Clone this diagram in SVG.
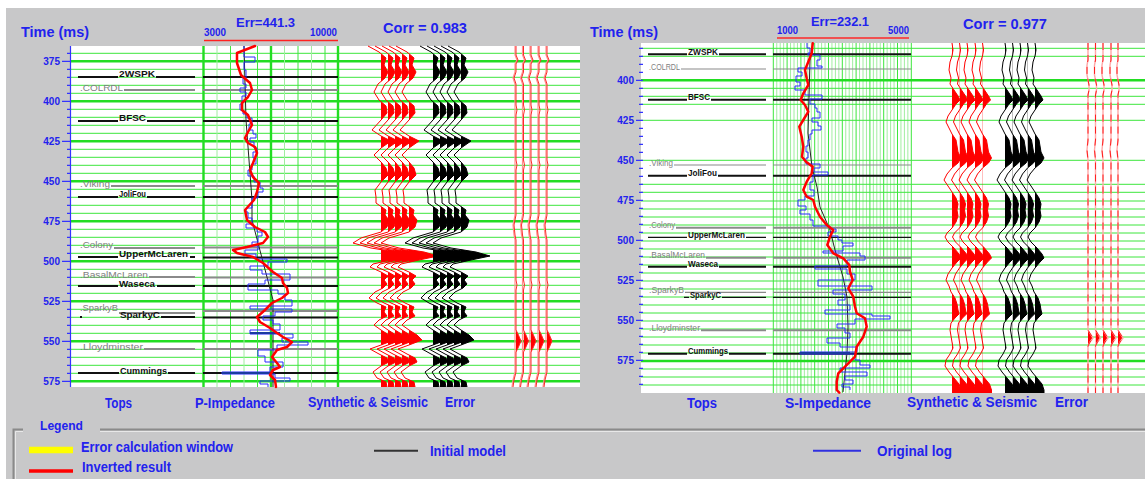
<svg xmlns="http://www.w3.org/2000/svg" xmlns:xlink="http://www.w3.org/1999/xlink" width="1145" height="479" viewBox="0 0 1145 479">
<style>
.lab{font-family:"Liberation Sans",Arial,sans-serif;font-weight:bold;fill:#2222ee}
.tick{font-family:"Liberation Sans",Arial,sans-serif;font-weight:bold;fill:#2222ee;font-size:10px;text-anchor:end}
.tk{font-family:"Liberation Sans",Arial,sans-serif;font-weight:bold;fill:#111;font-size:9.5px}
.tkg{font-family:"Liberation Sans",Arial,sans-serif;fill:#808080;font-size:9.5px}
.g1{stroke:#3de63d;stroke-width:1;fill:none}
.g3{stroke:#22dd22;stroke-width:2.4;fill:none}
.gl{stroke:#a0eea0;stroke-width:1;fill:none}
.tb{stroke:#111;stroke-width:2;fill:none}
.tbt{stroke:#111;stroke-width:1.2;fill:none}
.tg{stroke:#8a8a8a;stroke-width:2;fill:none}
.tgt{stroke:#8a8a8a;stroke-width:1.2;fill:none}
.blue{stroke:#2a2aff;stroke-width:1;fill:none}
.init{stroke:#222;stroke-width:1;fill:none}
.inv{stroke:#ff0000;stroke-width:2.5;fill:none;stroke-linejoin:round;stroke-linecap:round}
.ax{stroke:#3333ff;stroke-width:1.2;fill:none}
</style>
<defs>
<clipPath id="pos" clipPathUnits="userSpaceOnUse"><rect x="0" y="0" width="80" height="479"/></clipPath>
<g id="wL">
<path fill="currentColor" clip-path="url(#pos)" d="M0,46 L-13,46 L-2,52 L5,58 L3,65 L7,72 L4,78 L-3,84 L-7,92 L-2,100 L5,106 L6,113 L0,120 L-9,130 L0,136 L10,141 L0,148 L-7,155 L0,162 L5,168 L7,175 L0,182 L-6,190 L-5,197 L-5,203 L5,210 L4,215 L8,220 L6,227 L0,232 L-20,238 L-28,243 L-10,248 L15,252 L29,256 L10,260 L-8,264 L-11,267 L0,272 L7,276 L3,280 L6,284 L2,288 L-6,292 L-12,298 L-4,303 L5,307 L3,312 L6,316 L-2,320 L-7,325 L0,330 L8,335 L13,340 L0,345 L-11,349 L-2,354 L6,358 L8,362 L0,366 L-8,372 L-4,378 L5,382 L6,387 L0,387 Z"/>
<path fill="none" stroke="currentColor" stroke-width="1" stroke-linejoin="round" d="M-13,46 L-2,52 L5,58 L3,65 L7,72 L4,78 L-3,84 L-7,92 L-2,100 L5,106 L6,113 L0,120 L-9,130 L0,136 L10,141 L0,148 L-7,155 L0,162 L5,168 L7,175 L0,182 L-6,190 L-5,197 L-5,203 L5,210 L4,215 L8,220 L6,227 L0,232 L-20,238 L-28,243 L-10,248 L15,252 L29,256 L10,260 L-8,264 L-11,267 L0,272 L7,276 L3,280 L6,284 L2,288 L-6,292 L-12,298 L-4,303 L5,307 L3,312 L6,316 L-2,320 L-7,325 L0,330 L8,335 L13,340 L0,345 L-11,349 L-2,354 L6,358 L8,362 L0,366 L-8,372 L-4,378 L5,382 L6,387"/>
</g>
<g id="wR">
<path fill="currentColor" clip-path="url(#pos)" d="M0,43 L1,50 L0,56 L-2,62 L-3,70 L-1,78 L-2,84 L2,90 L6,96 L8,100 L4,104 L0,110 L-4,116 L-6,122 L-3,128 L0,134 L4,140 L5,146 L6,152 L9,158 L6,163 L0,168 L-5,174 L-8,180 L-4,186 L0,192 L4,198 L6,204 L5,210 L6,216 L4,222 L0,228 L-5,233 L-7,237 L-4,242 L2,248 L7,254 L9,258 L5,262 L0,268 L-4,274 L-6,280 L-3,286 L-1,292 L3,298 L5,304 L6,310 L7,314 L3,318 L-1,323 L-2,330 L-1,336 L0,342 L1,348 L-2,354 L-6,360 L-7,366 L-3,372 L2,378 L7,384 L9,390 L9,393 L0,393 Z"/>
<path fill="none" stroke="currentColor" stroke-width="1" stroke-linejoin="round" d="M0,43 L1,50 L0,56 L-2,62 L-3,70 L-1,78 L-2,84 L2,90 L6,96 L8,100 L4,104 L0,110 L-4,116 L-6,122 L-3,128 L0,134 L4,140 L5,146 L6,152 L9,158 L6,163 L0,168 L-5,174 L-8,180 L-4,186 L0,192 L4,198 L6,204 L5,210 L6,216 L4,222 L0,228 L-5,233 L-7,237 L-4,242 L2,248 L7,254 L9,258 L5,262 L0,268 L-4,274 L-6,280 L-3,286 L-1,292 L3,298 L5,304 L6,310 L7,314 L3,318 L-1,323 L-2,330 L-1,336 L0,342 L1,348 L-2,354 L-6,360 L-7,366 L-3,372 L2,378 L7,384 L9,390 L9,393"/>
</g>
<g id="eL">
<path fill="#ff0000" clip-path="url(#pos)" d="M0,46 L0,330 L2,334 L5,341 L2,348 L0,352 L0,387 Z"/>
<path fill="none" stroke="#ff9090" stroke-width="1.2" d="M-1,46 L-1,55 L1,60 L-1,64 L-1,72 L-3,78 L-1,84 L-1,215 L-3,225 L-2,235 L-1,240 L-1,372 L-3,380 L-4,387"/>
<path fill="none" stroke="#ff2a2a" stroke-width="1" d="M0,46 L0,55 L2,60 L0,64 L0,72 L-2,78 L0,84 L0,105 L1,110 L0,115 L0,160 L1,165 L0,170 L0,215 L-2,225 L-1,235 L0,240 L0,280 L1,285 L0,290 L0,330 L2,334 L5,341 L2,348 L0,352 L0,372 L-2,380 L-3,387"/>
</g>
<g id="eR">
<path fill="#ff0000" clip-path="url(#pos)" d="M0,43 L0,330 L3,335 L5,338 L2,342 L0,346 L0,393 Z"/>
<path fill="none" stroke="#ffa8a8" stroke-width="1.4" d="M0,43 L0,60 L-1,65 L-1,75 L0,80 L1,85 L1,90 L0,95 L0,140 L-1,150 L0,160 L0,330 L3,335 L5,338 L2,342 L0,346 L0,393"/>
<path fill="none" stroke="#ff2020" stroke-width="1" stroke-dasharray="7 5" d="M0,43 L0,60 L-1,65 L-1,75 L0,80 L1,85 L1,90 L0,95 L0,140 L-1,150 L0,160 L0,330 L3,335 L5,338 L2,342 L0,346 L0,393"/>
</g>
</defs>

<!-- background -->
<rect x="0" y="0" width="1145" height="479" fill="#ffffff"/>
<rect x="6" y="8" width="1139" height="471" fill="#c8c8c9"/>

<!-- ============ LEFT PANEL ============ -->
<g id="left-panel">
<rect x="71" y="46" width="509" height="341" fill="#ffffff"/>
<path class="g1" d="M71,53.3H580 M71,69.3H580 M71,77.3H580 M71,85.3H580 M71,93.3H580 M71,109.3H580 M71,117.3H580 M71,125.3H580 M71,133.3H580 M71,149.3H580 M71,157.3H580 M71,165.3H580 M71,173.3H580 M71,189.3H580 M71,197.3H580 M71,205.3H580 M71,213.3H580 M71,229.3H580 M71,237.3H580 M71,245.3H580 M71,253.3H580 M71,269.3H580 M71,277.3H580 M71,285.3H580 M71,293.3H580 M71,309.3H580 M71,317.3H580 M71,325.3H580 M71,333.3H580 M71,349.3H580 M71,357.3H580 M71,365.3H580 M71,373.3H580"/>
<path class="g3" d="M71,61.3H580 M71,101.3H580 M71,141.3H580 M71,181.3H580 M71,221.3H580 M71,261.3H580 M71,301.3H580 M71,341.3H580 M71,381.3H580"/>
<path class="gl" stroke-width="1.5" d="M217,46V387 M244,46V387 M284.5,46V387 M311.5,46V387"/>
<path class="g1" stroke-width="1.5" d="M230.5,46V387 M257.5,46V387 M298,46V387 M325,46V387"/>
<path class="g3" stroke-width="2" d="M203.5,46V387 M271,46V387 M338,46V387"/>

<!-- axis -->
<path class="ax" d="M70.5,46V387"/>
<path class="ax" d="M67,53.3H71 M67,69.3H71 M67,77.3H71 M67,85.3H71 M67,93.3H71 M67,109.3H71 M67,117.3H71 M67,125.3H71 M67,133.3H71 M67,149.3H71 M67,157.3H71 M67,165.3H71 M67,173.3H71 M67,189.3H71 M67,197.3H71 M67,205.3H71 M67,213.3H71 M67,229.3H71 M67,237.3H71 M67,245.3H71 M67,253.3H71 M67,269.3H71 M67,277.3H71 M67,285.3H71 M67,293.3H71 M67,309.3H71 M67,317.3H71 M67,325.3H71 M67,333.3H71 M67,349.3H71 M67,357.3H71 M67,365.3H71 M67,373.3H71 M62,61.3H71 M62,101.3H71 M62,141.3H71 M62,181.3H71 M62,221.3H71 M62,261.3H71 M62,301.3H71 M62,341.3H71 M62,381.3H71"/>
<text class="tick" x="60" y="64.8">375</text>
<text class="tick" x="60" y="104.8">400</text>
<text class="tick" x="60" y="144.8">425</text>
<text class="tick" x="60" y="184.8">450</text>
<text class="tick" x="60" y="224.8">475</text>
<text class="tick" x="60" y="264.8">500</text>
<text class="tick" x="60" y="304.8">525</text>
<text class="tick" x="60" y="344.8">550</text>
<text class="tick" x="60" y="384.8">575</text>

<!-- tops lines -->
<path class="tb" d="M78,77H118 M156,77H195 M78,121H118 M147,121H195 M78,197H118 M147,197H195 M78,257H118 M190,257H195 M78,286H118 M157,286H195 M80,317H82 M161,317H195 M78,373H119 M168,373H195"/>
<path class="tg" d="M124,90H195 M111,186H195 M114,248H195 M149,277H195 M119,313H195 M144,349H195"/>
<path class="tb" d="M203,77H338 M203,121H338 M203,197H338 M203,257.5H338 M203,286H338 M203,317.5H338 M203,373H338"/>
<path class="tg" d="M203,90H338 M203,186H338 M203,247.5H338 M203,277.5H338 M203,311H338 M203,349H338"/>
<text class="tk" x="119" y="77" textLength="36" lengthAdjust="spacingAndGlyphs">2WSPK</text>
<text class="tkg" x="80" y="91" textLength="43" lengthAdjust="spacingAndGlyphs">.COLRDL</text>
<text class="tk" x="119" y="121" textLength="27" lengthAdjust="spacingAndGlyphs">BFSC</text>
<text class="tkg" x="80" y="187" textLength="30" lengthAdjust="spacingAndGlyphs">.Viking</text>
<text class="tk" x="119" y="197" textLength="27" lengthAdjust="spacingAndGlyphs">JoliFou</text>
<text class="tkg" x="80" y="248" textLength="33" lengthAdjust="spacingAndGlyphs">.Colony</text>
<text class="tk" x="119" y="257" textLength="69" lengthAdjust="spacingAndGlyphs">UpperMcLaren</text>
<text class="tkg" x="80" y="278" textLength="68" lengthAdjust="spacingAndGlyphs">.BasalMcLaren</text>
<text class="tk" x="119" y="287" textLength="36" lengthAdjust="spacingAndGlyphs">Waseca</text>
<text class="tkg" x="80" y="311" textLength="38" lengthAdjust="spacingAndGlyphs">.SparkyB</text>
<text class="tk" x="120" y="318" textLength="40" lengthAdjust="spacingAndGlyphs">SparkyC</text>
<text class="tkg" x="80" y="350" textLength="63" lengthAdjust="spacingAndGlyphs">.Lloydminster</text>
<text class="tk" x="120" y="374" textLength="47" lengthAdjust="spacingAndGlyphs">Cummings</text>

<!-- impedance curves -->
<path class="init" d="M244,46 L246,120 L252,200 L252,220 L273,300 L273,387"/>
<path class="blue" d="M244,46 V57 H255 V62 H244 V70 H246 V78 H243 V84 H246 V88 H240 V92 H246 V96 H242 V104 H240 V110 H243 V114 H247 V118 H252 V124 H249 V130 H253 V134 H256 V138 H250 V142 H254 V148 H257 V152 H253 V158 H256 V164 H252 V170 H248 V176 H254 V182 H260 V188 H263 V192 H258 V198 H252 V208 H246 V212 H248 V218 H252 V224 H246 V228 H257 V232 H262 V236 H258 V242 H252 V246 H258 V250 H245 V254 H256 V259 H287 V262 H268 V266 H250 V270 H262 V274 H290 V280 H265 V284 H248 V290 H278 V294 H285 V300 H292 V306 H250 V309 H292 V312 H275 V316 H263 V320 H273 V324 H280 V330 H250 V334 H293 V338 H282 V342 H308 V345 H277 V350 H258 V356 H265 V362 H283 V367 H270 V372 H222 V374 H275 V378 H290 V381 H260 V384 H268 V387"/>
<path stroke="#1a3aa0" stroke-width="2" d="M250,333H280 M222,373H270"/>
<path class="inv" d="M255,46 L237,53 L237,63 L241,75 L250,83 L252,90 L248,97 L242,103 L242,110 L248,115 L252,125 L248,132 L245,138 L248,143 L255,147 L257,153 L253,163 L250,170 L253,177 L259,183 L257,192 L254,200 L245,210 L247,220 L255,227 L265,232 L268,237 L263,243 L247,247 L233,250 L237,253 L253,257 L263,263 L273,272 L282,278 L283,283 L287,288 L288,293 L282,298 L272,303 L265,310 L257,317 L260,322 L270,328 L277,333 L283,337 L292,342 L287,347 L277,350 L272,357 L277,363 L280,367 L273,370 L270,375 L275,380 L276,387"/>

<!-- synthetic & seismic -->
<g color="#ff0000">
<use xlink:href="#wL" transform="translate(381,0)"/>
<use xlink:href="#wL" transform="translate(388,0)"/>
<use xlink:href="#wL" transform="translate(395,0)"/>
<use xlink:href="#wL" transform="translate(402,0)"/>
<use xlink:href="#wL" transform="translate(409,0)"/>
</g>
<g color="#000000">
<use xlink:href="#wL" transform="translate(433,0)"/>
<use xlink:href="#wL" transform="translate(440,0)"/>
<use xlink:href="#wL" transform="translate(447,0)"/>
<use xlink:href="#wL" transform="translate(454,0)"/>
<use xlink:href="#wL" transform="translate(461,0)"/>
</g>
<!-- error -->
<use xlink:href="#eL" transform="translate(516,0)"/>
<use xlink:href="#eL" transform="translate(523.5,0)"/>
<use xlink:href="#eL" transform="translate(531,0)"/>
<use xlink:href="#eL" transform="translate(539,0)"/>
<use xlink:href="#eL" transform="translate(547,0)"/>

<!-- headers -->
<text class="lab" x="21" y="37" font-size="15" textLength="68" lengthAdjust="spacingAndGlyphs">Time (ms)</text>
<text class="lab" x="236" y="27" font-size="13.5" textLength="59" lengthAdjust="spacingAndGlyphs">Err=441.3</text>
<text class="lab" x="204" y="36" font-size="10" textLength="22" lengthAdjust="spacingAndGlyphs">3000</text>
<text class="lab" x="310" y="36" font-size="10" textLength="27" lengthAdjust="spacingAndGlyphs">10000</text>
<path stroke="#ff2020" stroke-width="1.5" d="M204,40.5H338"/>
<text class="lab" x="383" y="33" font-size="14.5" textLength="84" lengthAdjust="spacingAndGlyphs">Corr = 0.983</text>
<text class="lab" x="105" y="407.5" font-size="14" textLength="27" lengthAdjust="spacingAndGlyphs">Tops</text>
<text class="lab" x="195" y="408" font-size="14" textLength="80" lengthAdjust="spacingAndGlyphs">P-Impedance</text>
<text class="lab" x="308" y="407" font-size="14" textLength="120" lengthAdjust="spacingAndGlyphs">Synthetic &amp; Seismic</text>
<text class="lab" x="445" y="407" font-size="14" textLength="30" lengthAdjust="spacingAndGlyphs">Error</text>
</g>

<!-- ============ RIGHT PANEL ============ -->
<g id="right-panel">
<rect x="641" y="43" width="504" height="350" fill="#ffffff"/>
<path class="gl" d="M776.75,43V393 M780.2,43V393 M783.65,43V393 M790.55,43V393 M794,43V393 M797.45,43V393 M804.35,43V393 M807.8,43V393 M811.25,43V393 M818.15,43V393 M821.6,43V393 M825.05,43V393 M831.95,43V393 M835.4,43V393 M838.85,43V393 M845.75,43V393 M849.2,43V393 M852.65,43V393 M859.55,43V393 M863,43V393 M866.45,43V393 M873.35,43V393 M876.8,43V393 M880.25,43V393 M887.15,43V393 M890.6,43V393 M894.05,43V393 M900.95,43V393 M904.4,43V393 M907.85,43V393"/>
<path class="g1" stroke-width="1.4" d="M773.3,43V393 M787.1,43V393 M800.9,43V393 M814.7,43V393 M828.5,43V393 M842.3,43V393 M856.1,43V393 M869.9,43V393 M883.7,43V393 M897.5,43V393 M911.3,43V393"/>
<path class="g1" d="M641,48.3H1145 M641,56.3H1145 M641,88.3H1145 M641,96.3H1145 M641,120.3H1145 M641,160.3H1145 M641,184.3H1145 M641,192.3H1145 M641,201H1145 M641,209H1145 M641,217H1145 M641,225H1145 M641,233H1145 M641,241H1145 M641,249H1145 M641,257H1145 M641,265H1145 M641,273H1145 M641,281H1145 M641,289H1145 M641,297H1145 M641,305H1145 M641,313H1145 M641,321H1145 M641,329H1145 M641,337H1145 M641,345H1145 M641,353H1145 M641,369H1145 M641,377H1145 M641,385H1145"/>
<path class="g3" d="M641,80.3H1145 M641,361H1145"/>
<path class="g1" stroke-width="1.8" d="M641,104.3H1145"/>

<!-- ticks -->
<path class="ax" d="M639,48.3H643 M639,56.3H643 M639,64.3H643 M639,72.3H643 M639,88.3H643 M639,96.3H643 M639,104.3H643 M639,112.3H643 M639,128.3H643 M639,136.3H643 M639,144.3H643 M639,152.3H643 M639,168.3H643 M639,176.3H643 M639,184.3H643 M639,192.3H643 M639,208.3H643 M639,216.3H643 M639,224.3H643 M639,232.3H643 M639,248.3H643 M639,256.3H643 M639,264.3H643 M639,272.3H643 M639,288.3H643 M639,296.3H643 M639,304.3H643 M639,312.3H643 M639,328.3H643 M639,336.3H643 M639,344.3H643 M639,352.3H643 M639,368.3H643 M639,376.3H643 M639,384.3H643 M636,80.3H643 M636,120.3H643 M636,160.3H643 M636,200.3H643 M636,240.3H643 M636,280.3H643 M636,320.3H643 M636,360.3H643"/>
<text class="tick" x="634" y="83.7">400</text>
<text class="tick" x="634" y="123.7">425</text>
<text class="tick" x="634" y="163.7">450</text>
<text class="tick" x="634" y="203.7">475</text>
<text class="tick" x="634" y="243.7">500</text>
<text class="tick" x="634" y="283.7">525</text>
<text class="tick" x="634" y="323.7">550</text>
<text class="tick" x="634" y="363.7">575</text>

<!-- tops -->
<path class="tb" stroke-width="2.5" d="M648,54.3H687 M719,54.3H766 M648,99.7H687 M711,99.7H766 M648,175.7H687 M718,175.7H766 M648,266.7H687 M719,266.7H766 M648,353.7H687 M729,353.7H766"/>
<path class="tbt" d="M648,237.3H687 M746,237.3H766 M684,297.3H689 M722,297.3H766"/>
<path class="tg" stroke-width="2.5" d="M676,227.7H766 M706,257.7H766 M701,330.3H766"/>
<path class="tgt" d="M681,69H766 M674,165H766 M685,292.3H766"/>
<path class="tb" stroke-width="2.5" d="M773,54.3H911 M773,99.7H911 M773,175.7H911 M773,266.7H911 M773,353.7H911"/>
<path class="tbt" d="M773,237.3H911 M773,297.3H911"/>
<path class="tg" stroke-width="2.5" d="M773,227.7H911 M773,257.7H911 M773,330.3H911"/>
<path class="tgt" d="M773,69H911 M773,165H911 M773,292.3H911"/>
<text class="tk" font-size="8.5" x="688" y="54.5" textLength="30" lengthAdjust="spacingAndGlyphs">ZWSPK</text>
<text class="tkg" font-size="8.5" x="649" y="69.5" textLength="31" lengthAdjust="spacingAndGlyphs">.COLRDL</text>
<text class="tk" font-size="8.5" x="688" y="100" textLength="22" lengthAdjust="spacingAndGlyphs">BFSC</text>
<text class="tkg" font-size="8.5" x="649" y="165.5" textLength="24" lengthAdjust="spacingAndGlyphs">.Viking</text>
<text class="tk" font-size="8.5" x="688" y="176" textLength="29" lengthAdjust="spacingAndGlyphs">JoliFou</text>
<text class="tkg" font-size="8.5" x="649" y="228" textLength="26" lengthAdjust="spacingAndGlyphs">.Colony</text>
<text class="tk" font-size="8.5" x="688" y="237.5" textLength="57" lengthAdjust="spacingAndGlyphs">UpperMcLaren</text>
<text class="tkg" font-size="8.5" x="649" y="258" textLength="56" lengthAdjust="spacingAndGlyphs">.BasalMcLaren</text>
<text class="tk" font-size="8.5" x="688" y="267" textLength="30" lengthAdjust="spacingAndGlyphs">Waseca</text>
<text class="tkg" font-size="8.5" x="649" y="292.5" textLength="35" lengthAdjust="spacingAndGlyphs">.SparkyB</text>
<text class="tk" font-size="8.5" x="690" y="297.5" textLength="31" lengthAdjust="spacingAndGlyphs">SparkyC</text>
<text class="tkg" font-size="8.5" x="649" y="330.5" textLength="51" lengthAdjust="spacingAndGlyphs">.Lloydminster</text>
<text class="tk" font-size="8.5" x="688" y="354" textLength="40" lengthAdjust="spacingAndGlyphs">Cummings</text>

<!-- S-impedance curves -->
<path class="init" d="M813,43 L810,60 L808,133 L812,167 L817,187 L820,207 L830,230 L835,250 L843,277 L847,297 L848,327 L847,353 L843,392"/>
<path class="blue" d="M807,43 V48 H810 V53 H808 V55 H820 V60 H817 V66 H822 V68 H798 V72 H802 V76 H796 V82 H800 V86 H795 V90 H805 V95 H822 V99 H810 V104 H815 V108 H817 V112 H820 V118 H812 V122 H818 V126 H821 V130 H812 V134 H810 V140 H808 V146 H806 V152 H808 V158 H806 V164 H820 V168 H814 V172 H828 V175 H813 V182 H810 V190 H814 V196 H805 V200 H798 V206 H806 V210 H800 V214 H810 V220 H813 V226 H830 V229 H836 V232 H828 V236 H838 V240 H842 V243 H853 V246 H843 V251 H823 V253 H860 V256 H865 V260 H847 V266 H815 V269 H847 V274 H855 V280 H818 V286 H872 V290 H833 V294 H845 V300 H838 V305 H850 V310 H825 V314 H872 V316 H890 V319 H855 V324 H837 V328 H845 V333 H850 V338 H827 V343 H840 V347 H857 V352 H800 V354 H855 V360 H860 V365 H870 V368 H840 V372 H867 V376 H845 V380 H853 V384 H842 V387 H850 V390"/>
<path stroke="#1a3aa0" stroke-width="2" d="M800,353H850"/>
<path class="inv" d="M812.7,43.3 L811.7,53.3 L808.3,61.7 L805,70 L806.7,78.3 L808.3,85 L803.3,93.3 L800.7,100 L805,105 L808.3,111.7 L803.3,120 L799.3,126.7 L801.7,136.7 L803.3,146.7 L802,156.7 L806,161.7 L812.7,166.7 L811.7,173.3 L806.7,181.7 L803.3,190 L806.7,196.7 L813.3,200 L815,206.7 L820,216.7 L826.7,225 L833.3,230 L830,236.7 L827.3,245 L833.3,253.3 L843.3,258.3 L849.3,265 L850,271.7 L852.7,280 L848.3,288.3 L853.3,296.7 L855,306.7 L856.7,313.3 L865,318.3 L866.7,326.7 L863.3,336.7 L856.7,346.7 L855,356.7 L848.3,363.3 L838.3,373.3 L836.7,381.7 L836.7,390 L839.3,392.7"/>

<!-- synthetic & seismic -->
<g color="#ff0000">
<use xlink:href="#wR" transform="translate(952,0)"/>
<use xlink:href="#wR" transform="translate(959.5,0)"/>
<use xlink:href="#wR" transform="translate(967,0)"/>
<use xlink:href="#wR" transform="translate(975,0)"/>
<use xlink:href="#wR" transform="translate(982.5,0)"/>
</g>
<g color="#000000">
<use xlink:href="#wR" transform="translate(1005,0)"/>
<use xlink:href="#wR" transform="translate(1012.5,0)"/>
<use xlink:href="#wR" transform="translate(1020,0)"/>
<use xlink:href="#wR" transform="translate(1027.5,0)"/>
<use xlink:href="#wR" transform="translate(1035,0)"/>
</g>
<use xlink:href="#eR" transform="translate(1088,0)"/>
<use xlink:href="#eR" transform="translate(1095.5,0)"/>
<use xlink:href="#eR" transform="translate(1103,0)"/>
<use xlink:href="#eR" transform="translate(1111,0)"/>
<use xlink:href="#eR" transform="translate(1118,0)"/>

<!-- headers -->
<text class="lab" x="590" y="37" font-size="15" textLength="68" lengthAdjust="spacingAndGlyphs">Time (ms)</text>
<text class="lab" x="811" y="26" font-size="13.5" textLength="58" lengthAdjust="spacingAndGlyphs">Err=232.1</text>
<text class="lab" x="777" y="34" font-size="10" textLength="21" lengthAdjust="spacingAndGlyphs">1000</text>
<text class="lab" x="888" y="34" font-size="10" textLength="21" lengthAdjust="spacingAndGlyphs">5000</text>
<path stroke="#f05050" stroke-width="2" d="M777,38H909"/>
<text class="lab" x="963" y="28.5" font-size="14.5" textLength="84" lengthAdjust="spacingAndGlyphs">Corr = 0.977</text>
<text class="lab" x="687" y="407.5" font-size="14" textLength="30" lengthAdjust="spacingAndGlyphs">Tops</text>
<text class="lab" x="785" y="408" font-size="14" textLength="86" lengthAdjust="spacingAndGlyphs">S-Impedance</text>
<text class="lab" x="907" y="407" font-size="14" textLength="130" lengthAdjust="spacingAndGlyphs">Synthetic &amp; Seismic</text>
<text class="lab" x="1055" y="407" font-size="14" textLength="33" lengthAdjust="spacingAndGlyphs">Error</text>
</g>

<!-- ============ LEGEND ============ -->
<g id="legend">
<path stroke="#8a8a8a" stroke-width="2" fill="none" d="M23,429.5H13.5V479 M100,429.5H1145"/>
<path stroke="#e8e8e8" stroke-width="1" fill="none" d="M23,431.5H15.5V479 M100,431.5H1145"/>
<text class="lab" x="40" y="430" font-size="13.5" textLength="43" lengthAdjust="spacingAndGlyphs">Legend</text>
<path stroke="#ffff00" stroke-width="6.5" d="M29,450H73"/>
<text class="lab" x="81" y="452" font-size="14" textLength="152" lengthAdjust="spacingAndGlyphs">Error calculation window</text>
<path stroke="#ff0000" stroke-width="3.5" d="M29,471H73"/>
<text class="lab" x="82" y="472" font-size="14" textLength="89" lengthAdjust="spacingAndGlyphs">Inverted result</text>
<path stroke="#333" stroke-width="2" d="M374,450.7H418"/>
<text class="lab" x="430" y="456" font-size="14" textLength="76" lengthAdjust="spacingAndGlyphs">Initial model</text>
<path stroke="#3030e0" stroke-width="2" d="M813,450.7H861"/>
<text class="lab" x="877" y="455.5" font-size="14" textLength="75" lengthAdjust="spacingAndGlyphs">Original log</text>
</g>
</svg>
